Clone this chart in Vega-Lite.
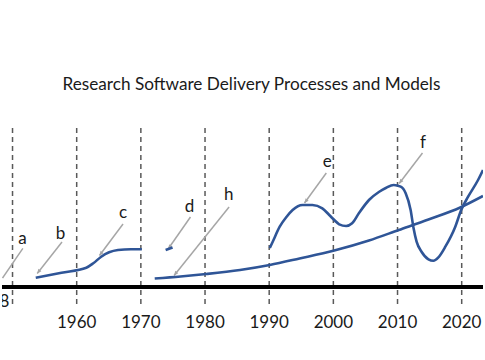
{
  "$schema": "https://vega.github.io/schema/vega-lite/v6.json",
  "width": 485,
  "height": 360,
  "autosize": {"type": "fit", "contains": "padding"},
  "padding": 0,
  "background": "white",
  "config": {"view": {"stroke": null}},
  "datasets": {
    "decades": [
      {"year": 1950}, {"year": 1960}, {"year": 1970}, {"year": 1980},
      {"year": 1990}, {"year": 2000}, {"year": 2010}, {"year": 2020}
    ],
    "curves": [
      {"series": "bc", "year": 1953.62, "v": 9.3},
      {"series": "bc", "year": 1957.63, "v": 14.3},
      {"series": "bc", "year": 1961.5, "v": 19.3},
      {"series": "bc", "year": 1962.58, "v": 23.7},
      {"series": "bc", "year": 1963.82, "v": 30.3},
      {"series": "bc", "year": 1965.05, "v": 34.7},
      {"series": "bc", "year": 1966.44, "v": 37},
      {"series": "bc", "year": 1968.45, "v": 37.8},
      {"series": "bc", "year": 1970.15, "v": 37.8},
      {"series": "d", "year": 1973.86, "v": 37},
      {"series": "d", "year": 1974.94, "v": 39.5},
      {"series": "h", "year": 1972.16, "v": 8.5},
      {"series": "h", "year": 1976.18, "v": 10.5},
      {"series": "h", "year": 1980.2, "v": 13},
      {"series": "h", "year": 1985.45, "v": 17},
      {"series": "h", "year": 1990.09, "v": 22},
      {"series": "h", "year": 1994.73, "v": 28.5},
      {"series": "h", "year": 2000.14, "v": 36.5},
      {"series": "h", "year": 2005.55, "v": 46.5},
      {"series": "h", "year": 2010.18, "v": 57},
      {"series": "h", "year": 2014.82, "v": 67.5},
      {"series": "h", "year": 2019.77, "v": 79.5},
      {"series": "h", "year": 2023.32, "v": 91},
      {"series": "ef", "year": 1990.09, "v": 39},
      {"series": "ef", "year": 1990.55, "v": 45.3},
      {"series": "ef", "year": 1991.64, "v": 60.3},
      {"series": "ef", "year": 1992.72, "v": 70.3},
      {"series": "ef", "year": 1993.65, "v": 77},
      {"series": "ef", "year": 1995.19, "v": 82},
      {"series": "ef", "year": 1996.74, "v": 82},
      {"series": "ef", "year": 1998.28, "v": 78.7},
      {"series": "ef", "year": 1999.36, "v": 72},
      {"series": "ef", "year": 2000.14, "v": 67},
      {"series": "ef", "year": 2000.91, "v": 62.7},
      {"series": "ef", "year": 2001.99, "v": 61},
      {"series": "ef", "year": 2002.92, "v": 63.7},
      {"series": "ef", "year": 2004.0, "v": 74},
      {"series": "ef", "year": 2005.55, "v": 87},
      {"series": "ef", "year": 2007.09, "v": 95},
      {"series": "ef", "year": 2008.17, "v": 99},
      {"series": "ef", "year": 2009.41, "v": 102},
      {"series": "ef", "year": 2010.49, "v": 100.3},
      {"series": "ef", "year": 2011.27, "v": 93.7},
      {"series": "ef", "year": 2012.04, "v": 77},
      {"series": "ef", "year": 2012.5, "v": 58.7},
      {"series": "ef", "year": 2012.97, "v": 45.3},
      {"series": "ef", "year": 2013.74, "v": 35.3},
      {"series": "ef", "year": 2014.82, "v": 27.7},
      {"series": "ef", "year": 2015.59, "v": 26.3},
      {"series": "ef", "year": 2016.37, "v": 29.7},
      {"series": "ef", "year": 2017.45, "v": 40.3},
      {"series": "ef", "year": 2019.0, "v": 60.3},
      {"series": "ef", "year": 2019.92, "v": 77},
      {"series": "ef", "year": 2021.0, "v": 90.3},
      {"series": "ef", "year": 2022.55, "v": 107},
      {"series": "ef", "year": 2023.32, "v": 117}
    ],
    "pointers": [
      {"id": "a", "end": "tip", "year": 1948.44, "v": 9},
      {"id": "a", "end": "tail", "year": 1951.61, "v": 38.7},
      {"id": "b", "end": "tip", "year": 1953.85, "v": 13.5},
      {"id": "b", "end": "tail", "year": 1957.71, "v": 45},
      {"id": "c", "end": "tip", "year": 1963.55, "v": 31.5},
      {"id": "c", "end": "tail", "year": 1967.22, "v": 63},
      {"id": "d", "end": "tip", "year": 1974.25, "v": 38},
      {"id": "d", "end": "tail", "year": 1977.73, "v": 70},
      {"id": "h", "end": "tip", "year": 1975.18, "v": 11.5},
      {"id": "h", "end": "tail", "year": 1983.75, "v": 80},
      {"id": "e", "end": "tip", "year": 1995.5, "v": 84},
      {"id": "e", "end": "tail", "year": 1998.9, "v": 114},
      {"id": "f", "end": "tip", "year": 2010.26, "v": 103.5},
      {"id": "f", "end": "tail", "year": 2013.89, "v": 134}
    ],
    "letters": [
      {"letter": "a", "year": 1951.56, "v": 42.7},
      {"letter": "b", "year": 1957.48, "v": 48},
      {"letter": "c", "year": 1967.22, "v": 68.7},
      {"letter": "d", "year": 1977.57, "v": 75.3},
      {"letter": "h", "year": 1983.68, "v": 87},
      {"letter": "e", "year": 1999.06, "v": 120.3},
      {"letter": "f", "year": 2013.97, "v": 138.7}
    ],
    "extra": [
      {"label": "1948", "year": 1949.5, "v": -19.7}
    ],
    "title": [
      {"label": "Research Software Delivery Processes and Models", "year": 1987.23, "v": 197}
    ]
  },
  "layer": [
    {
      "data": {"name": "decades"},
      "mark": {"type": "rule", "strokeDash": [5, 4], "strokeWidth": 1.5, "color": "#595959"},
      "encoding": {
        "x": {"field": "year", "type": "quantitative", "scale": {"domain": [1948.36, 2023.32], "nice": false, "zero": false}, "axis": null},
        "y": {"datum": 159, "type": "quantitative", "scale": {"domain": [-73, 287], "nice": false, "zero": false}, "axis": null},
        "y2": {"datum": -18}
      }
    },
    {
      "data": {"name": "decades"},
      "mark": {"type": "rule", "strokeWidth": 3, "color": "#000000"},
      "encoding": {
        "y": {"datum": 0, "type": "quantitative", "scale": {"domain": [-73, 287], "nice": false, "zero": false}, "axis": null}
      }
    },
    {
      "data": {"name": "decades"},
      "transform": [{"filter": "datum.year >= 1960"}],
      "mark": {"type": "text", "font": "Lato", "fontSize": 17, "color": "#1a1a1a", "baseline": "alphabetic", "align": "center"},
      "encoding": {
        "x": {"field": "year", "type": "quantitative", "scale": {"domain": [1948.36, 2023.32], "nice": false, "zero": false}, "axis": null},
        "y": {"datum": -40.7, "type": "quantitative", "scale": {"domain": [-73, 287], "nice": false, "zero": false}, "axis": null},
        "text": {"field": "year", "type": "quantitative", "format": "d"}
      }
    },
    {
      "data": {"name": "extra"},
      "mark": {"type": "text", "font": "Lato", "fontSize": 17, "color": "#1a1a1a", "baseline": "alphabetic", "align": "right", "clip": true},
      "encoding": {
        "x": {"field": "year", "type": "quantitative", "scale": {"domain": [1948.36, 2023.32], "nice": false, "zero": false}, "axis": null},
        "y": {"field": "v", "type": "quantitative", "scale": {"domain": [-73, 287], "nice": false, "zero": false}, "axis": null},
        "text": {"field": "label"}
      }
    },
    {
      "data": {"name": "pointers"},
      "mark": {"type": "line", "color": "#a6a6a6", "strokeWidth": 1.5, "clip": true},
      "encoding": {
        "x": {"field": "year", "type": "quantitative", "scale": {"domain": [1948.36, 2023.32], "nice": false, "zero": false}, "axis": null},
        "y": {"field": "v", "type": "quantitative", "scale": {"domain": [-73, 287], "nice": false, "zero": false}, "axis": null},
        "detail": {"field": "id"}
      }
    },
    {
      "data": {"name": "pointers"},
      "transform": [{"filter": "datum.end == 'tip' && datum.id != 'a'"}],
      "mark": {"type": "point", "shape": "M0,0L-0.7,-1.6L0.7,-1.6Z", "angle": 37, "filled": true, "opacity": 1, "color": "#a6a6a6", "size": 30},
      "encoding": {
        "x": {"field": "year", "type": "quantitative", "scale": {"domain": [1948.36, 2023.32], "nice": false, "zero": false}, "axis": null},
        "y": {"field": "v", "type": "quantitative", "scale": {"domain": [-73, 287], "nice": false, "zero": false}, "axis": null}
      }
    },
    {
      "data": {"name": "curves"},
      "mark": {"type": "line", "color": "#2f5597", "strokeWidth": 2.6, "interpolate": "monotone", "clip": true},
      "encoding": {
        "x": {"field": "year", "type": "quantitative", "scale": {"domain": [1948.36, 2023.32], "nice": false, "zero": false}, "axis": null},
        "y": {"field": "v", "type": "quantitative", "scale": {"domain": [-73, 287], "nice": false, "zero": false}, "axis": null},
        "detail": {"field": "series"}
      }
    },
    {
      "data": {"name": "letters"},
      "mark": {"type": "text", "font": "Lato", "fontSize": 17, "color": "#1a1a1a", "baseline": "alphabetic", "align": "center"},
      "encoding": {
        "x": {"field": "year", "type": "quantitative", "scale": {"domain": [1948.36, 2023.32], "nice": false, "zero": false}, "axis": null},
        "y": {"field": "v", "type": "quantitative", "scale": {"domain": [-73, 287], "nice": false, "zero": false}, "axis": null},
        "text": {"field": "letter"}
      }
    },
    {
      "data": {"name": "title"},
      "mark": {"type": "text", "font": "Lato", "fontSize": 17.2, "color": "#1a1a1a", "baseline": "alphabetic", "align": "center"},
      "encoding": {
        "x": {"field": "year", "type": "quantitative", "scale": {"domain": [1948.36, 2023.32], "nice": false, "zero": false}, "axis": null},
        "y": {"field": "v", "type": "quantitative", "scale": {"domain": [-73, 287], "nice": false, "zero": false}, "axis": null},
        "text": {"field": "label"}
      }
    }
  ]
}
